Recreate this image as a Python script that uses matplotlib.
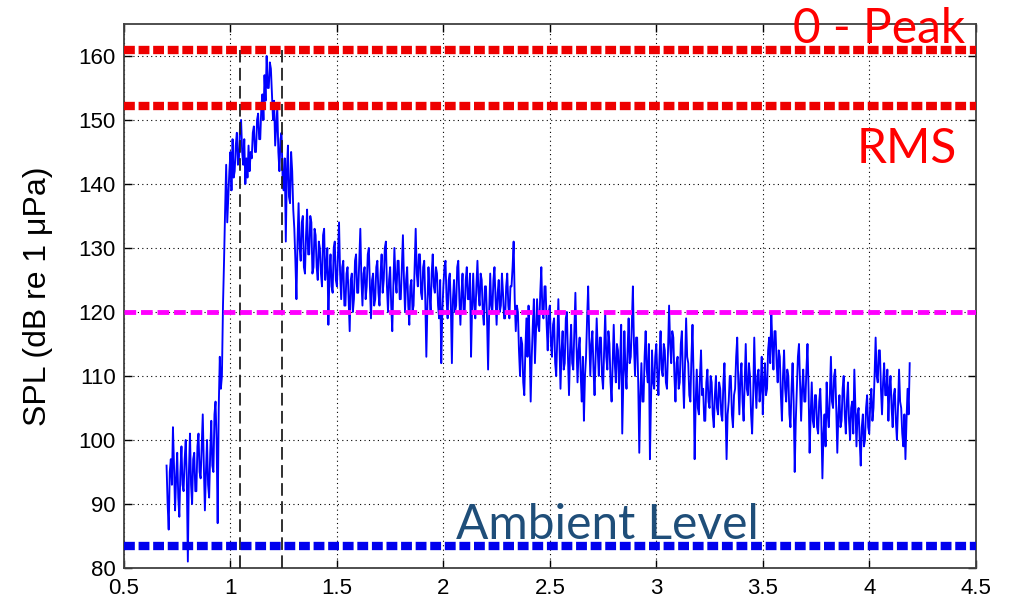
import numpy as np
import matplotlib
matplotlib.use("Agg")
import matplotlib.pyplot as plt

# ---- data ----
t_step = 0.005          # s, sample spacing inside each 0.1 s block
block_starts = [0.70, 0.80, 0.90, 1.00, 1.10, 1.20, 1.30, 1.40, 1.50, 1.60,
                1.70, 1.80, 1.90, 2.00, 2.10, 2.20, 2.30, 2.40, 2.50, 2.60,
                2.70, 2.80, 2.90, 3.00, 3.10, 3.20, 3.30, 3.40, 3.50, 3.60,
                3.70, 3.80, 3.90, 4.00, 4.10]
spl_blocks = [
    [96, 90, 86, 95, 97, 93, 102, 96, 89, 94, 98, 91, 88, 95, 99, 93, 92, 97, 100, 94],
    [81, 95, 101, 93, 90, 97, 98, 92, 92, 99, 101, 95, 94, 99, 104, 96, 89, 95, 100, 93],
    [91, 98, 103, 96, 95, 104, 106, 100, 87, 105, 113, 108, 110, 121, 128, 136, 143, 134, 138, 142],
    [145, 139, 147, 141, 142, 146, 148, 143, 144, 149, 150, 145, 143, 147, 140, 144, 141, 146, 142, 145],
    [144, 148, 149, 145, 145, 150, 151, 147, 147, 152, 154, 150, 157, 153, 160, 155, 155, 159, 158, 154],
    [150, 153, 146, 149, 152, 145, 142, 147, 148, 141, 139, 144, 131, 142, 146, 138, 137, 145, 142, 136],
    [133, 128, 122, 131, 137, 130, 128, 134, 135, 127, 126, 132, 136, 129, 129, 135, 134, 126, 127, 133],
    [132, 127, 125, 131, 130, 126, 124, 132, 133, 125, 127, 130, 118, 126, 129, 124, 123, 130, 131, 125],
    [124, 129, 134, 126, 122, 127, 128, 121, 121, 126, 127, 122, 117, 125, 126, 120, 122, 128, 129, 123],
    [123, 128, 133, 125, 121, 126, 127, 122, 124, 129, 130, 124, 119, 125, 126, 121, 122, 127, 128, 123],
    [121, 126, 129, 123, 125, 130, 131, 124, 120, 125, 127, 121, 117, 124, 130, 125, 123, 128, 128, 122],
    [122, 127, 132, 125, 120, 125, 127, 121, 118, 124, 125, 120, 121, 127, 133, 126, 124, 129, 129, 123],
    [122, 127, 128, 122, 113, 121, 127, 123, 120, 126, 129, 124, 123, 127, 126, 121, 119, 125, 112, 120],
    [124, 127, 128, 122, 119, 125, 126, 121, 112, 122, 125, 120, 121, 127, 128, 122, 118, 123, 126, 120],
    [120, 125, 127, 122, 122, 126, 113, 121, 126, 121, 119, 124, 128, 123, 121, 126, 125, 120, 118, 124],
    [124, 119, 111, 120, 126, 121, 120, 125, 127, 122, 118, 123, 125, 120, 121, 126, 123, 119, 119, 124],
    [126, 121, 119, 124, 124, 127, 131, 122, 117, 121, 120, 114, 110, 116, 115, 109, 107, 114, 119, 113],
    [121, 115, 106, 113, 118, 122, 112, 117, 122, 118, 117, 123, 127, 120, 119, 124, 124, 118, 114, 120],
    [121, 115, 113, 118, 119, 112, 110, 116, 122, 115, 108, 114, 117, 111, 112, 119, 120, 113, 107, 114],
    [118, 112, 111, 117, 123, 115, 109, 114, 116, 110, 106, 113, 103, 110, 113, 119, 124, 116, 110, 115],
    [117, 111, 107, 113, 119, 114, 110, 116, 116, 110, 108, 114, 120, 113, 111, 117, 115, 109, 106, 112],
    [118, 112, 109, 115, 114, 108, 112, 118, 101, 109, 117, 111, 108, 114, 119, 112, 113, 118, 124, 115],
    [110, 116, 116, 109, 98, 107, 112, 106, 106, 113, 117, 111, 109, 115, 97, 106, 114, 109, 108, 113],
    [115, 110, 107, 113, 117, 111, 110, 115, 114, 109, 108, 114, 121, 115, 112, 117, 116, 110, 106, 112],
    [113, 108, 109, 115, 117, 110, 105, 112, 119, 113, 112, 107, 106, 113, 118, 110, 97, 106, 111, 105],
    [104, 110, 114, 107, 108, 103, 103, 109, 111, 106, 105, 110, 109, 104, 102, 107, 110, 105, 104, 109],
    [108, 104, 103, 109, 112, 105, 97, 104, 106, 110, 110, 104, 102, 107, 108, 113, 116, 109, 104, 110],
    [112, 106, 103, 109, 115, 108, 107, 112, 110, 104, 101, 107, 116, 109, 105, 110, 111, 106, 108, 113],
    [104, 109, 112, 107, 108, 114, 116, 112, 120, 115, 111, 117, 117, 112, 109, 114, 113, 107, 103, 110],
    [114, 108, 106, 111, 110, 104, 102, 108, 112, 106, 95, 103, 108, 113, 115, 109, 103, 108, 111, 106],
    [106, 111, 115, 108, 98, 104, 109, 103, 102, 107, 107, 102, 101, 106, 108, 103, 94, 101, 104, 99],
    [109, 104, 102, 107, 113, 106, 105, 110, 111, 105, 98, 104, 107, 102, 103, 108, 110, 104, 101, 106],
    [109, 103, 100, 105, 106, 101, 111, 105, 99, 104, 105, 100, 96, 102, 104, 99, 100, 105, 107, 102],
    [101, 106, 108, 103, 105, 110, 116, 110, 109, 114, 114, 108, 104, 109, 112, 107, 107, 111, 103, 108],
    [110, 105, 102, 107, 108, 103, 100, 105, 111, 106, 105, 101, 99, 104, 97, 103, 108, 104, 112],
]
peak_level = 161.0
rms_level = 152.2
threshold_level = 120.0
ambient_level = 83.5
window_edges = [1.045, 1.24]

x_ticks = [0.5, 1, 1.5, 2, 2.5, 3, 3.5, 4, 4.5]
x_tick_labels = ["0.5", "1", "1.5", "2", "2.5", "3", "3.5", "4", "4.5"]
y_ticks = [80, 90, 100, 110, 120, 130, 140, 150, 160]
y_tick_labels = ["80", "90", "100", "110", "120", "130", "140", "150", "160"]
y_label = "SPL (dB re 1 μPa)"
peak_text = "0 - Peak"
rms_text = "RMS"
ambient_text = "Ambient Level"

t = np.concatenate([s + t_step * np.arange(len(b)) for s, b in zip(block_starts, spl_blocks)])
spl = np.concatenate([np.asarray(b, dtype=float) for b in spl_blocks])

# ---- figure ----
fig = plt.figure(figsize=(10.17, 6.02), dpi=100)
ax = fig.add_axes([0.1219, 0.0565, 0.8375, 0.9037])

ax.set_xlim(0.5, 4.5)
ax.set_ylim(80, 165)

ax.grid(True, linestyle=(0, (1, 3)), color="black", linewidth=0.8)
ax.set_axisbelow(True)

ax.plot(t, spl, color="#0000ff", linewidth=1.35, zorder=3)

for xe in window_edges:
    ax.plot([xe, xe], [80, peak_level], color="#202020", linewidth=1.3,
            linestyle=(0, (7, 3)), zorder=4)

ax.axhline(peak_level, color="#ee0000", linewidth=6, linestyle=(0, (1.3, 0.45)),
           dash_capstyle="butt", zorder=5)
ax.axhline(rms_level, color="#ee0000", linewidth=6, linestyle=(0, (1.3, 0.45)),
           dash_capstyle="butt", zorder=5)
ax.axhline(threshold_level, color="#ff00ff", linewidth=3.5, linestyle=(0, (2.4, 1.0)),
           dash_capstyle="butt", zorder=5)
ax.axhline(ambient_level, color="#0000ee", linewidth=6, linestyle=(0, (1.3, 0.45)),
           dash_capstyle="butt", zorder=5)

ax.set_xticks(x_ticks)
ax.set_xticklabels(x_tick_labels)
ax.set_yticks(y_ticks)
ax.set_yticklabels(y_tick_labels)
ax.tick_params(direction="in", top=True, right=True, length=6, width=1,
               labelsize=16, colors="#000000")
ax.tick_params(axis="x", pad=7)
ax.tick_params(axis="y", pad=6)
for lab in ax.get_xticklabels() + ax.get_yticklabels():
    lab.set_family("Liberation Sans")
for s in ax.spines.values():
    s.set_color("#404040")
    s.set_linewidth(1.3)

ax.set_ylabel(y_label, fontsize=23, family="Liberation Sans")
ax.yaxis.set_label_coords(-0.083, 0.5)

ax.text(4.45, 162.0, peak_text, color="#ff0000", fontsize=34.5, family="Lato",
        ha="right", va="baseline", clip_on=False, zorder=6)
ax.text(4.41, 143.3, rms_text, color="#ff0000", fontsize=34.5, family="Lato",
        ha="right", va="baseline", clip_on=False, zorder=6)
ax.text(2.06, 84.6, ambient_text, color="#1f4e79", fontsize=34.5, family="Lato",
        ha="left", va="baseline", clip_on=False, zorder=6)

fig.savefig("out.png", dpi=100)
